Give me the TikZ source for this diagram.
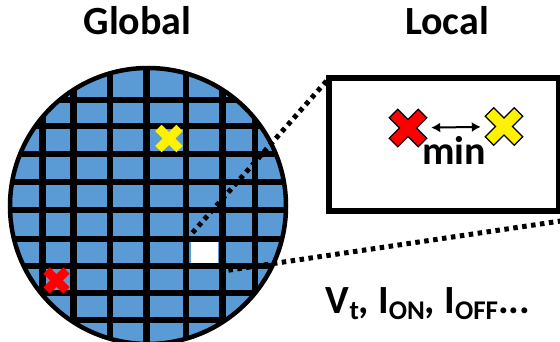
\documentclass[tikz,border=0pt]{standalone}
\usepackage{fontspec}
\setmainfont{Carlito}
\usetikzlibrary{arrows.meta}
\definecolor{waferblue}{RGB}{91,155,213}
\tikzset{title/.style={font=\fontsize{40}{44}\selectfont\bfseries,inner sep=0pt,anchor=base},vline/.style={line width=6.5pt},hline/.style={line width=5.5pt},dots/.style={line width=5pt,dash pattern=on 4.5pt off 4.5pt},zoomframe/.style={rectangle,draw,line width=6pt,minimum width=230pt,minimum height=133pt,outer sep=0pt},spot/.style={circle,minimum size=46pt,inner sep=0pt},line/.style={{Latex[length=9pt,width=10pt]}-{Latex[length=9pt,width=10pt]},line width=2pt}}
\newcommand{\lowtext}[1]{\raisebox{-6pt}{\fontsize{27}{27}\selectfont #1}}
% cross mark: centre, half length, half width, style
\newcommand{\wafercross}[4]{\path[#4,shift={(#1)},rotate=45] (#3,#2) -- (-#3,#2) -- (-#3,#3) -- (-#2,#3) -- (-#2,-#3) -- (-#3,-#3) -- (-#3,-#2) -- (#3,-#2) -- (#3,-#3) -- (#2,-#3) -- (#2,#3) -- (#3,#3) -- cycle;}

\begin{document}
\begin{tikzpicture}[x=1pt,y=-1pt]
\useasboundingbox (0,0) rectangle (560,342);
% wafer
\begin{scope}
\clip (148,206) circle (138);
\fill[waferblue] (148,206) circle (138);
\foreach \gx in {42.5,73.5,110,146.5,186,222.5,255} \draw[vline] (\gx,60) -- (\gx,350);
\foreach \gy in {100,126,154,182,210,239,266,293,320} \draw[hline] (0,\gy) -- (300,\gy);
\end{scope}
\draw[line width=4.5pt] (148,206) circle (138);
\node[fill=white,minimum width=27.5pt,minimum height=21pt,inner sep=0pt] (cell) at (204.4,252.5) {};
\coordinate (yelG) at (169,138.5);
\coordinate (redG) at (56.5,280.5);
\wafercross{yelG}{15}{4.5}{fill=yellow}
\wafercross{redG}{14}{4.5}{fill=red}
% local view
\node[zoomframe] (zoombox) at (443.75,145) {};
\draw[dots] ([xshift=2pt,yshift=9pt]cell.north west) -- (zoombox.north west);
\draw[dots] ([xshift=10pt,yshift=-7pt]cell.south east) -- ([xshift=2pt,yshift=-9.5pt]zoombox.south east);
\node[spot] (redL) at (408,128) {};
\node[spot] (yelL) at (504,126.5) {};
\wafercross{redL}{20.5}{6}{fill=red,draw=black,line width=1.2pt}
\wafercross{yelL}{20.5}{6}{fill=yellow,draw=black,line width=1.2pt}
\draw[line] (redL) -- (yelL);
\node[title] (minlbl) at (454,164.5) {min};
% labels
\node[title] (global) at (137.5,35) {Global};
\node[title] (local) at (447,35) {Local};
\node[title] (params) at (428,313) {V\lowtext{t}, I\lowtext{ON}, I\lowtext{OFF}...};
\end{tikzpicture}
\end{document}
